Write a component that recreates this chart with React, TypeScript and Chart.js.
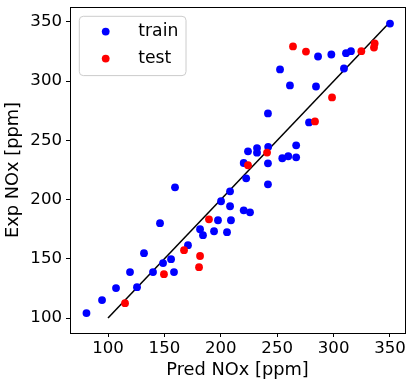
import React, { useEffect, useRef } from "react";
import { Chart, registerables } from "chart.js";

Chart.register(...registerables);

// ---- data ----
const trainPred = [
  80.9, 94.7, 107.1, 119.5, 125.7, 131.9, 139.9, 146.1, 148.8, 155.9, 158.5, 159.4,
  170.9, 181.6, 184.2, 194.0, 197.5, 200.2, 205.5, 208.2, 208.2, 209.0, 220.3, 220.3,
  222.5, 224.1, 225.9, 232.1, 232.1, 241.8, 241.8, 242.0, 241.8, 252.5, 254.5, 259.8,
  261.3, 266.8, 266.8, 278.2, 284.4, 286.2, 298.0, 309.2, 311.0, 315.4, 350.0,
];
const trainExp = [
  104.2, 115.2, 125.3, 138.8, 126.1, 154.8, 138.8, 180.1, 146.4, 149.7, 138.8, 210.4,
  161.5, 175.0, 170.0, 173.3, 182.6, 198.6, 172.5, 207.0, 194.4, 182.6, 191.0, 230.9,
  218.0, 240.8, 189.3, 243.5, 239.6, 212.9, 230.6, 244.6, 272.8, 309.9, 234.9, 236.6,
  296.4, 245.8, 235.7, 265.2, 295.5, 320.8, 322.5, 310.7, 323.6, 325.3, 348.6,
];
const testPred = [
  115.1, 149.6, 167.4, 180.7, 181.6, 189.5, 224.1, 241.0, 264.0, 275.5, 283.5, 298.6,
  324.6, 335.8, 336.4,
];
const testExp = [
  112.6, 137.1, 157.3, 143.0, 152.4, 183.4, 229.0, 239.7, 329.3, 325.0, 266.0, 286.3,
  325.3, 328.4, 331.8,
];
const parityLine = [100, 350];
const xTicks = [100, 150, 200, 250, 300, 350];
const yTicks = [100, 150, 200, 250, 300, 350];
const xRange = [66.3, 363.3];
const yRange = [87.4, 362.6];
const seriesLabels = ["train", "test"];
const seriesColors = ["#0000ff", "#ff0000"];
const xTitle = "Pred NOx [ppm]";
const yTitle = "Exp NOx [ppm]";

const FONT = "'DejaVu Sans', sans-serif";

const framePlugin = {
  id: "frameAndLegend",
  afterDraw(chart: any) {
    const { ctx, chartArea } = chart;
    const l = Math.floor(chartArea.left) + 0.5;
    const t = Math.floor(chartArea.top) + 0.5;
    const r = Math.floor(chartArea.right) + 0.5;
    const b = Math.floor(chartArea.bottom) + 0.5;
    ctx.save();
    ctx.strokeStyle = "#000";
    ctx.lineWidth = 1;
    ctx.strokeRect(l, t, r - l, b - t);

    // legend (matplotlib style, upper left)
    const bx = chartArea.left + 9.3;
    const by = chartArea.top + 9.3;
    const bw = 106.7;
    const bh = 59.3;
    const rad = 4;
    ctx.beginPath();
    ctx.moveTo(bx + rad, by);
    ctx.lineTo(bx + bw - rad, by);
    ctx.arcTo(bx + bw, by, bx + bw, by + rad, rad);
    ctx.lineTo(bx + bw, by + bh - rad);
    ctx.arcTo(bx + bw, by + bh, bx + bw - rad, by + bh, rad);
    ctx.lineTo(bx + rad, by + bh);
    ctx.arcTo(bx, by + bh, bx, by + bh - rad, rad);
    ctx.lineTo(bx, by + rad);
    ctx.arcTo(bx, by, bx + rad, by, rad);
    ctx.closePath();
    ctx.fillStyle = "rgba(255,255,255,0.8)";
    ctx.fill();
    ctx.strokeStyle = "#cccccc";
    ctx.lineWidth = 1;
    ctx.stroke();

    const ds = chart.data.datasets.filter((d: any) => d.label);
    ds.forEach((d: any, i: number) => {
      const cy = by + 15.3 + i * 27;
      ctx.beginPath();
      ctx.arc(bx + 26.4, cy, 3.9, 0, Math.PI * 2);
      ctx.fillStyle = d.backgroundColor;
      ctx.fill();
      ctx.fillStyle = "#000";
      ctx.font = `17.2px ${FONT}`;
      ctx.textBaseline = "middle";
      ctx.textAlign = "left";
      ctx.fillText(d.label, bx + 59, cy);
    });
    ctx.restore();
  },
};

export default function App() {
  const ref = useRef<HTMLCanvasElement | null>(null);

  useEffect(() => {
    if (!ref.current) return;
    const chart = new Chart(ref.current, {
      type: "scatter",
      data: {
        datasets: [
          {
            label: seriesLabels[0],
            data: trainPred.map((x, i) => ({ x, y: trainExp[i] })),
            backgroundColor: seriesColors[0],
            borderWidth: 0,
            pointRadius: 3.9,
            order: 2,
          },
          {
            label: seriesLabels[1],
            data: testPred.map((x, i) => ({ x, y: testExp[i] })),
            backgroundColor: seriesColors[1],
            borderWidth: 0,
            pointRadius: 3.9,
            order: 1,
          },
          {
            type: "line",
            label: "",
            data: parityLine.map((v) => ({ x: v, y: v })),
            borderColor: "#000",
            borderWidth: 1.5,
            pointRadius: 0,
            showLine: true,
            fill: false,
            order: 3,
          } as any,
        ],
      },
      options: {
        responsive: false,
        animation: false,
        devicePixelRatio: 1,
        layout: { padding: { top: 7, right: 9, left: 0, bottom: 0 } },
        plugins: {
          legend: { display: false },
          tooltip: { enabled: false },
        },
        scales: {
          x: {
            type: "linear",
            min: xRange[0],
            max: xRange[1],
            afterBuildTicks: (s: any) => {
              s.ticks = xTicks.map((v) => ({ value: v }));
            },
            afterFit: (s: any) => {
              s.height = 54;
              s.paddingLeft = 0;
              s.paddingRight = 0;
            },
            grid: {
              display: true,
              drawOnChartArea: false,
              drawTicks: true,
              tickLength: 4,
              color: "#000",
              lineWidth: 1,
            },
            border: { display: false },
            ticks: {
              color: "#000",
              font: { family: FONT, size: 16.6 },
              padding: 2,
              maxRotation: 0,
              autoSkip: false,
            },
            title: {
              display: true,
              text: xTitle,
              color: "#000",
              font: { family: FONT, size: 17.8 },
              padding: { top: 0, bottom: 6 },
            },
          },
          y: {
            type: "linear",
            min: yRange[0],
            max: yRange[1],
            afterBuildTicks: (s: any) => {
              s.ticks = yTicks.map((v) => ({ value: v }));
            },
            afterFit: (s: any) => {
              s.width = 70;
              s.paddingTop = 0;
              s.paddingBottom = 0;
            },
            grid: {
              display: true,
              drawOnChartArea: false,
              drawTicks: true,
              tickLength: 4,
              color: "#000",
              lineWidth: 1,
            },
            border: { display: false },
            ticks: {
              color: "#000",
              font: { family: FONT, size: 16.6 },
              padding: 4,
              autoSkip: false,
            },
            title: {
              display: true,
              text: yTitle,
              color: "#000",
              font: { family: FONT, size: 17.8 },
              padding: { top: 2.4, bottom: 0 },
            },
          },
        },
      },
      plugins: [framePlugin],
    } as any);
    return () => chart.destroy();
  }, []);

  return (
    <div style={{ position: "fixed", left: 0, top: 0, width: 414, height: 387, background: "#fff" }}>
      <canvas ref={ref} width={414} height={387} style={{ display: "block", width: 414, height: 387 }} />
    </div>
  );
}
